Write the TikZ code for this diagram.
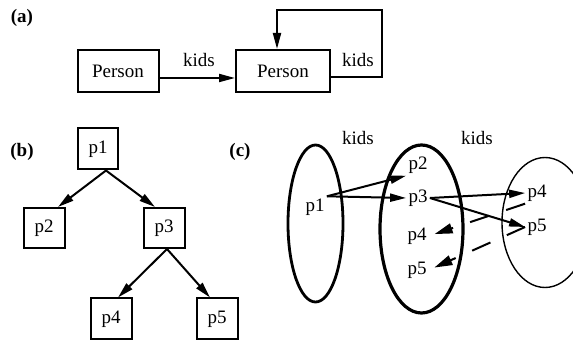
\documentclass[tikz,border=0pt]{standalone}
\usepackage{fontspec}
\setmainfont{Liberation Serif}
\usetikzlibrary{arrows.meta}
\tikzset{
  box/.style={draw,line width=1pt,minimum height=21pt,inner sep=1pt},
  lbl/.style={inner sep=1pt},
  arr/.style={line width=1pt,-{Triangle[length=8pt,width=4pt]}},
  darr/.style={line width=1pt,dash pattern=on 10pt off 9pt,-{Triangle[length=9pt,width=5pt]}}
}
\begin{document}
\begin{tikzpicture}[x=0.5pt,y=-0.5pt,font=\fontsize{9.5}{11}\selectfont]
\useasboundingbox (0,0) rectangle (573,341);
% (a)
\node[lbl,font=\fontsize{9.5}{11}\selectfont\bfseries] (la) at (22,18) {(a)};
\node[box,minimum width=40.5pt] (person1) at (118,71) {Person};
\node[box,minimum width=47pt] (person2) at (283,71) {Person};
\coordinate (loop) at (382,10);
\draw[arr] ([yshift=-3.5pt]person1.east) -- ([yshift=-3.5pt]person2.west);
\draw[arr] ([yshift=-3pt]person2.east) -| (loop) -| ([xshift=-3pt]person2.north);
\node[lbl] (kids1) at (199,60) {kids};
\node[lbl] (kids2) at (358,60) {kids};
% (b)
\node[lbl,font=\fontsize{9.5}{11}\selectfont\bfseries] (lb) at (22,152) {(b)};
\node[box,minimum width=20pt,minimum height=20.5pt] (t1) at (98,149) {p1};
\node[box,minimum width=20.5pt,minimum height=20pt] (t2) at (44,228) {p2};
\node[box,minimum width=20.5pt,minimum height=20pt] (t3) at (164,228) {p3};
\node[box,minimum width=20.5pt,minimum height=20.5pt] (t4) at (111,319) {p4};
\node[box,minimum width=20.5pt,minimum height=20.5pt] (t5) at (217,319) {p5};
\draw[arr] ([xshift=4pt]t1.south) -- ([xshift=7pt]t2.north);
\draw[arr] ([xshift=4pt]t1.south) -- ([xshift=-4.5pt]t3.north);
\draw[arr] ([xshift=1.5pt]t3.south) -- ([xshift=3.5pt]t4.north);
\draw[arr] ([xshift=1.5pt]t3.south) -- ([xshift=-3.5pt]t5.north);
% (c)
\node[lbl,font=\fontsize{9.5}{11}\selectfont\bfseries] (lc) at (240,152) {(c)};
\draw[line width=1.4pt] (315.5,223.5) ellipse [x radius=13.75pt,y radius=39.25pt];
\draw[line width=1.6pt] (421.5,229) ellipse [x radius=20.75pt,y radius=42pt];
\draw[line width=0.7pt] (545,222.5) ellipse [x radius=21.5pt,y radius=32.5pt];
\node[lbl] (kids3) at (358,138) {kids};
\node[lbl] (kids4) at (477,138) {kids};
\node[lbl] (s1) at (315,207) {p1};
\node[lbl] (s2) at (418,165) {p2};
\node[lbl] (s3) at (418,198) {p3};
\node[lbl] (s4) at (417,236) {p4};
\node[lbl] (s5) at (417,270) {p5};
\node[lbl] (r4) at (537,193) {p4};
\node[lbl] (r5) at (537,227) {p5};
\draw[arr] (s1.north east) -- (s2.south west);
\draw[arr] (s1.north east) -- (s3.west);
\draw[arr] (s3.east) -- (r4.west);
\draw[arr] (s3.east) -- (r5.west);
\draw[darr,shorten >=3pt] (r4.south west) -- (s4.east);
\draw[darr,shorten >=3pt] (r5.west) -- (s5.east);
\end{tikzpicture}
\end{document}
